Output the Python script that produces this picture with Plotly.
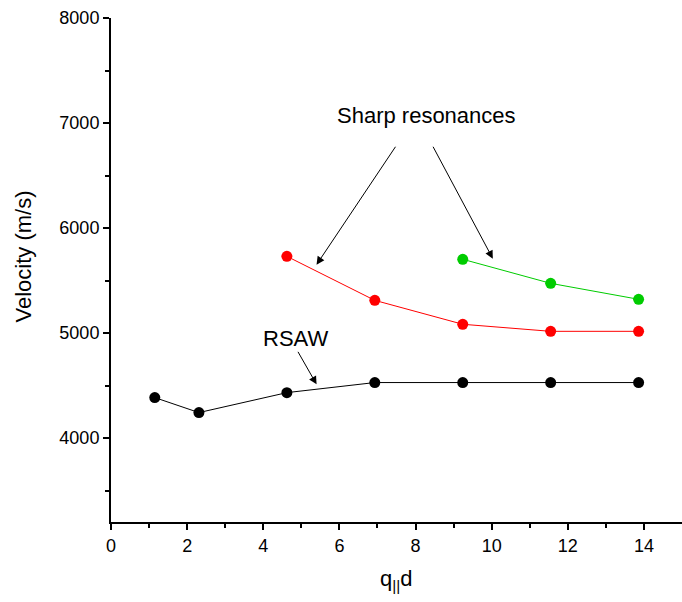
import plotly.graph_objects as go

qd = [1.15, 2.31, 4.62, 6.93, 9.24, 11.55, 13.86]
rsaw = [4385, 4242, 4432, 4528, 4528, 4528, 4528]
red_x = [4.62, 6.93, 9.24, 11.55, 13.86]
red_y = [5730, 5311, 5083, 5016, 5016]
green_x = [9.24, 11.55, 13.86]
green_y = [5702, 5473, 5321]

FONT = "Liberation Sans, Arial, sans-serif"

fig = go.Figure()
for xs, ys, col in [(qd, rsaw, "#000000"), (red_x, red_y, "#ff0000"), (green_x, green_y, "#00cc00")]:
    fig.add_trace(go.Scatter(x=xs, y=ys, mode="lines+markers",
                             line=dict(color=col, width=1),
                             marker=dict(color=col, size=11),
                             showlegend=False))

arrow = dict(showarrow=True, arrowhead=2, arrowsize=1.6, arrowwidth=1, arrowcolor="#000000",
             axref="x", ayref="y", text="")
fig.add_annotation(x=5.4, y=5651, ax=7.5, ay=6788, **arrow)
fig.add_annotation(x=10.03, y=5708, ax=8.44, ay=6788, **arrow)
fig.add_annotation(x=5.4, y=4511, ax=4.89, ay=4835, **arrow)
fig.add_annotation(x=8.3, y=7071, text="Sharp resonances", showarrow=False,
                   font=dict(size=22, color="black", family=FONT))
fig.add_annotation(x=4.84, y=4949, text="RSAW", showarrow=False,
                   font=dict(size=22, color="black", family=FONT))
# axis titles
fig.add_annotation(xref="paper", yref="paper", x=0.5, y=-0.116, xanchor="center", yanchor="middle",
                   text="q<sub>||</sub>d", showarrow=False,
                   font=dict(size=22, color="black", family=FONT))
fig.add_annotation(xref="paper", yref="paper", x=-0.154, y=0.527, xanchor="center", yanchor="middle",
                   text="Velocity (m/s)", textangle=-90, showarrow=False,
                   font=dict(size=22, color="black", family=FONT))

fig.update_layout(
    width=682, height=602,
    margin=dict(l=111, r=0, t=18, b=80),
    plot_bgcolor="white", paper_bgcolor="white",
    font=dict(family=FONT, size=18, color="black"),
    xaxis=dict(range=[0, 15], tickvals=[0, 2, 4, 6, 8, 10, 12, 14],
               showgrid=False, zeroline=False, showline=True, linecolor="black", linewidth=2,
               ticks="outside", ticklen=6, tickwidth=2, tickcolor="black",
               minor=dict(tickvals=[1, 3, 5, 7, 9, 11, 13], ticks="outside", ticklen=4,
                          tickwidth=2, tickcolor="black", showgrid=False)),
    yaxis=dict(range=[3200, 8000], tickvals=[4000, 5000, 6000, 7000, 8000],
               showgrid=False, zeroline=False, showline=True, linecolor="black", linewidth=2,
               ticks="outside", ticklen=6, tickwidth=2, tickcolor="black",
               minor=dict(tickvals=[3500, 4500, 5500, 6500, 7500], ticks="outside", ticklen=4,
                          tickwidth=2, tickcolor="black", showgrid=False)),
)

fig.write_html("out.html")
